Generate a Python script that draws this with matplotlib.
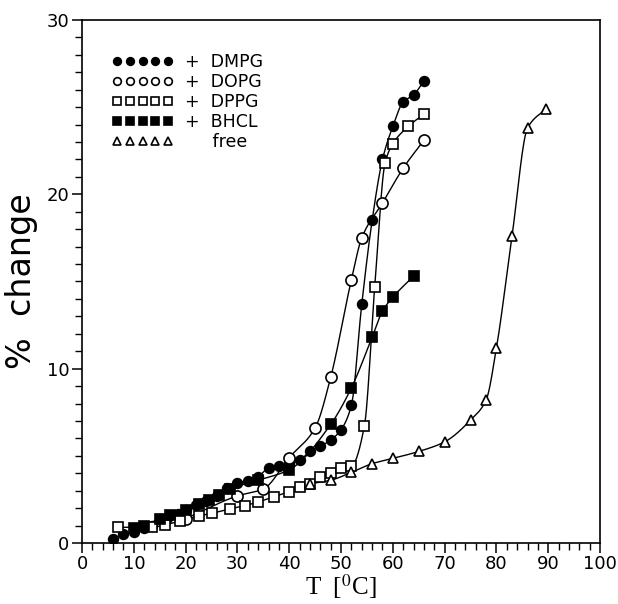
import numpy as np
import matplotlib
matplotlib.use("Agg")
import matplotlib.pyplot as plt
from matplotlib.lines import Line2D

# temperature (deg C) and % change for each sample
dmpg_t = [6, 8, 10, 12, 13.5, 15, 16.5, 18.5, 20, 22, 24, 26, 28, 30, 32, 34, 36, 38,
          40, 42, 44, 46, 48, 50, 52, 54, 56, 58, 60, 62, 64, 66]
dmpg_y = [0.25, 0.5, 0.65, 0.85, 1.0, 1.35, 1.45, 1.65, 1.9, 2.2, 2.4, 2.7, 3.15, 3.45,
          3.55, 3.8, 4.3, 4.4, 4.55, 4.75, 5.25, 5.55, 5.9, 6.5, 7.9, 13.7, 18.5, 22.0,
          23.9, 25.3, 25.7, 26.5]

dopg_t = [20, 30, 35, 40, 45, 48, 52, 54, 58, 62, 66]
dopg_y = [1.4, 2.7, 3.1, 4.9, 6.6, 9.5, 15.1, 17.5, 19.5, 21.5, 23.1]

dppg_t = [7, 13.5, 16, 19, 22.5, 25, 28.5, 31.5, 34, 37, 40, 42, 44, 46, 48, 50, 52,
          54.5, 56.5, 58.5, 60, 63, 66]
dppg_y = [0.9, 0.9, 1.05, 1.25, 1.55, 1.7, 1.95, 2.15, 2.35, 2.65, 2.95, 3.2, 3.4, 3.8,
          4.0, 4.3, 4.4, 6.7, 14.7, 21.8, 22.9, 23.9, 24.6]

bhcl_t = [10, 12, 15, 17, 20, 22.5, 24.5, 26.5, 28.5, 34, 40, 48, 52, 56, 58, 60, 64]
bhcl_y = [0.85, 1.0, 1.4, 1.6, 1.9, 2.25, 2.45, 2.75, 3.1, 3.6, 4.2, 6.8, 8.9, 11.8,
          13.3, 14.1, 15.3]

free_t = [44, 48, 52, 56, 60, 65, 70, 75, 78, 80, 83, 86, 89.5]
free_y = [3.4, 3.6, 4.05, 4.55, 4.85, 5.25, 5.8, 7.05, 8.2, 11.2, 17.6, 23.8, 24.9]

labels = ["+  DMPG", "+  DOPG", "+  DPPG", "+  BHCL", "     free"]


def pchip(x, y, xs):
    """Monotone piecewise cubic Hermite interpolation (Fritsch-Carlson)."""
    x = np.asarray(x, float)
    y = np.asarray(y, float)
    h = np.diff(x)
    d = np.diff(y) / h
    m = np.zeros_like(y)
    m[0], m[-1] = d[0], d[-1]
    for k in range(1, len(x) - 1):
        if d[k - 1] * d[k] > 0:
            w1 = 2 * h[k] + h[k - 1]
            w2 = h[k] + 2 * h[k - 1]
            m[k] = (w1 + w2) / (w1 / d[k - 1] + w2 / d[k])
    i = np.clip(np.searchsorted(x, xs) - 1, 0, len(x) - 2)
    s = (xs - x[i]) / h[i]
    h00 = 2 * s**3 - 3 * s**2 + 1
    h10 = s**3 - 2 * s**2 + s
    h01 = -2 * s**3 + 3 * s**2
    h11 = s**3 - s**2
    return h00 * y[i] + h10 * h[i] * m[i] + h01 * y[i + 1] + h11 * h[i] * m[i + 1]


plt.rcParams["mathtext.fontset"] = "stix"

fig = plt.figure(figsize=(6.18, 6.04), dpi=100)
ax = fig.add_axes([0.1327, 0.101, 0.8383, 0.866])

series = [
    (dmpg_t, dmpg_y, dict(marker="o", mfc="black", ms=7)),
    (dopg_t, dopg_y, dict(marker="o", mfc="white", ms=8)),
    (dppg_t, dppg_y, dict(marker="s", mfc="white", ms=7)),
    (bhcl_t, bhcl_y, dict(marker="s", mfc="black", ms=7)),
    (free_t, free_y, dict(marker="^", mfc="white", ms=7)),
]

handles = []
for t, y, mk in series:
    xs = np.linspace(t[0], t[-1], 400)
    ax.plot(xs, pchip(t, y, xs), color="black", lw=1.0, zorder=2)
    ax.plot(t, y, ls="none", mec="black", mew=1.2, zorder=3, **mk)
    small = dict(mk)
    small["ms"] = 5.5
    handles.append(Line2D([], [], ls="none", mec="black", mew=1.2, **small))

ax.legend(handles, labels, loc="upper left", bbox_to_anchor=(0.045, 0.95),
          numpoints=5, handlelength=3.5, handletextpad=0.7, labelspacing=0.12,
          frameon=False, fontsize=12.5, borderaxespad=0.0)

ax.set_xlim(0, 100)
ax.set_ylim(0, 30)
ax.set_xticks(np.arange(0, 101, 10))
ax.set_xticks(np.arange(0, 101, 2), minor=True)
ax.set_yticks([0, 10, 20, 30])
ax.set_yticks(np.arange(0, 31, 1), minor=True)
ax.tick_params(which="major", direction="out", length=7, width=1.1, labelsize=13, pad=2)
ax.tick_params(which="minor", direction="out", length=5, width=1.0)
for sp in ax.spines.values():
    sp.set_linewidth(1.2)

ax.set_ylabel("%  change", fontsize=24, labelpad=6)
ax.set_xlabel(r"T  [$^{0}$C]", fontsize=18, family="Liberation Serif", labelpad=-1)

fig.savefig("out.png", dpi=100)
